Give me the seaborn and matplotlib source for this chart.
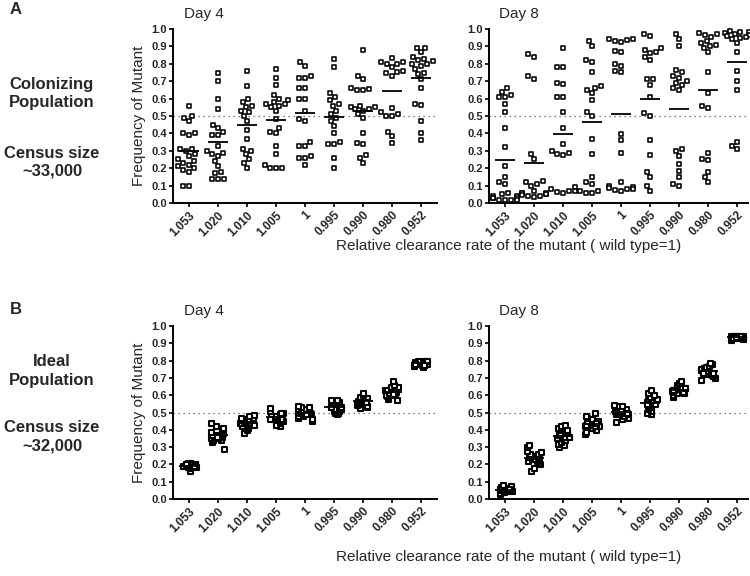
import matplotlib
matplotlib.use("Agg")
import matplotlib.pyplot as plt
import seaborn as sns
import pandas as pd
import numpy as np

# clearance rates (x categories), same for every panel
rates = ['1.053', '1.020', '1.010', '1.005', '1', '0.995', '0.990', '0.980', '0.952']

# A: colonizing population, day 4
colon_day4 = [
    [0.56, 0.50, 0.49, 0.47, 0.40, 0.40, 0.39, 0.31, 0.31, 0.30, 0.28, 0.27, 0.25, 0.24, 0.23, 0.22, 0.21, 0.20, 0.19, 0.18, 0.10, 0.10],
    [0.745, 0.70, 0.60, 0.54, 0.45, 0.43, 0.41, 0.39, 0.39, 0.33, 0.30, 0.29, 0.28, 0.27, 0.24, 0.21, 0.18, 0.17, 0.14, 0.14, 0.14],
    [0.76, 0.67, 0.60, 0.58, 0.56, 0.55, 0.53, 0.52, 0.50, 0.47, 0.42, 0.37, 0.31, 0.30, 0.28, 0.25, 0.23, 0.20],
    [0.77, 0.72, 0.68, 0.62, 0.60, 0.59, 0.58, 0.57, 0.57, 0.56, 0.55, 0.53, 0.48, 0.43, 0.41, 0.40, 0.33, 0.28, 0.22, 0.20, 0.20, 0.20],
    [0.81, 0.79, 0.73, 0.72, 0.72, 0.66, 0.66, 0.60, 0.60, 0.53, 0.48, 0.47, 0.35, 0.33, 0.33, 0.27, 0.26, 0.26, 0.22],
    [0.83, 0.78, 0.63, 0.61, 0.59, 0.57, 0.56, 0.53, 0.51, 0.49, 0.47, 0.44, 0.40, 0.35, 0.34, 0.34, 0.26, 0.20],
    [0.88, 0.73, 0.71, 0.66, 0.655, 0.65, 0.65, 0.56, 0.55, 0.55, 0.54, 0.54, 0.53, 0.51, 0.49, 0.40, 0.345, 0.34, 0.275, 0.26, 0.23],
    [0.835, 0.81, 0.81, 0.80, 0.80, 0.78, 0.76, 0.75, 0.745, 0.73, 0.545, 0.52, 0.51, 0.50, 0.50, 0.41, 0.385, 0.345],
    [0.89, 0.89, 0.865, 0.84, 0.83, 0.82, 0.815, 0.80, 0.80, 0.79, 0.77, 0.745, 0.74, 0.71, 0.66, 0.57, 0.565, 0.47, 0.40, 0.36],
]

# A: colonizing population, day 8
colon_day8 = [
    [0.66, 0.64, 0.62, 0.61, 0.61, 0.57, 0.52, 0.43, 0.32, 0.21, 0.15, 0.12, 0.11, 0.06, 0.05, 0.04, 0.04, 0.03, 0.03, 0.03, 0.02, 0.02, 0.02, 0.02],
    [0.855, 0.84, 0.73, 0.715, 0.28, 0.25, 0.125, 0.12, 0.11, 0.10, 0.07, 0.06, 0.06, 0.055, 0.05, 0.05, 0.045, 0.04, 0.04, 0.035],
    [0.89, 0.78, 0.78, 0.69, 0.685, 0.61, 0.61, 0.525, 0.43, 0.34, 0.30, 0.29, 0.28, 0.275, 0.09, 0.08, 0.07, 0.07, 0.065, 0.06],
    [0.93, 0.90, 0.82, 0.81, 0.75, 0.67, 0.66, 0.65, 0.63, 0.59, 0.52, 0.50, 0.37, 0.28, 0.15, 0.12, 0.11, 0.07, 0.07, 0.06, 0.06],
    [0.945, 0.94, 0.935, 0.93, 0.925, 0.875, 0.87, 0.80, 0.79, 0.76, 0.755, 0.395, 0.36, 0.29, 0.12, 0.10, 0.09, 0.085, 0.08, 0.08, 0.075, 0.07],
    [0.97, 0.96, 0.89, 0.88, 0.87, 0.86, 0.84, 0.82, 0.71, 0.71, 0.68, 0.61, 0.515, 0.50, 0.36, 0.275, 0.18, 0.15, 0.10, 0.07],
    [0.97, 0.94, 0.90, 0.765, 0.75, 0.73, 0.72, 0.70, 0.69, 0.68, 0.66, 0.65, 0.31, 0.30, 0.27, 0.225, 0.185, 0.15, 0.11, 0.10],
    [0.975, 0.97, 0.965, 0.955, 0.93, 0.92, 0.91, 0.90, 0.89, 0.865, 0.75, 0.63, 0.555, 0.545, 0.285, 0.25, 0.245, 0.18, 0.15, 0.12],
    [0.99, 0.985, 0.98, 0.975, 0.97, 0.965, 0.96, 0.955, 0.95, 0.94, 0.92, 0.87, 0.76, 0.70, 0.65, 0.35, 0.33, 0.31],
]

# B: ideal population, day 4
ideal_day4 = [
    [0.16, 0.18, 0.185, 0.19, 0.19, 0.19, 0.195, 0.195, 0.20, 0.20, 0.20, 0.205, 0.21, 0.21, 0.19, 0.185, 0.20, 0.195, 0.19, 0.20],
    [0.29, 0.33, 0.34, 0.34, 0.35, 0.35, 0.36, 0.36, 0.36, 0.37, 0.37, 0.37, 0.38, 0.38, 0.39, 0.40, 0.41, 0.42, 0.44, 0.36],
    [0.38, 0.40, 0.41, 0.42, 0.42, 0.43, 0.43, 0.44, 0.44, 0.44, 0.45, 0.45, 0.45, 0.46, 0.46, 0.47, 0.47, 0.48, 0.485, 0.43],
    [0.42, 0.43, 0.44, 0.45, 0.45, 0.46, 0.46, 0.47, 0.47, 0.47, 0.48, 0.48, 0.48, 0.49, 0.49, 0.50, 0.50, 0.51, 0.525, 0.46],
    [0.45, 0.46, 0.47, 0.48, 0.48, 0.49, 0.49, 0.50, 0.50, 0.50, 0.50, 0.51, 0.51, 0.51, 0.52, 0.52, 0.53, 0.53, 0.54, 0.49],
    [0.49, 0.50, 0.50, 0.51, 0.51, 0.52, 0.52, 0.52, 0.53, 0.53, 0.53, 0.54, 0.54, 0.55, 0.55, 0.56, 0.57, 0.575, 0.52, 0.53],
    [0.525, 0.53, 0.54, 0.545, 0.55, 0.55, 0.555, 0.56, 0.56, 0.565, 0.565, 0.57, 0.57, 0.575, 0.58, 0.585, 0.59, 0.60, 0.61, 0.56],
    [0.575, 0.58, 0.59, 0.595, 0.60, 0.60, 0.61, 0.61, 0.615, 0.62, 0.62, 0.625, 0.63, 0.63, 0.64, 0.645, 0.65, 0.66, 0.685, 0.605],
    [0.765, 0.77, 0.775, 0.775, 0.78, 0.78, 0.78, 0.785, 0.785, 0.785, 0.79, 0.79, 0.79, 0.795, 0.795, 0.80, 0.80, 0.775, 0.785, 0.78],
]

# B: ideal population, day 8
ideal_day8 = [
    [0.03, 0.035, 0.04, 0.045, 0.045, 0.05, 0.05, 0.05, 0.055, 0.055, 0.055, 0.06, 0.06, 0.06, 0.065, 0.07, 0.075, 0.08, 0.05, 0.06],
    [0.16, 0.18, 0.20, 0.21, 0.22, 0.22, 0.23, 0.23, 0.23, 0.24, 0.24, 0.24, 0.25, 0.25, 0.26, 0.26, 0.27, 0.28, 0.30, 0.315],
    [0.30, 0.31, 0.32, 0.33, 0.34, 0.34, 0.35, 0.35, 0.36, 0.36, 0.36, 0.37, 0.37, 0.38, 0.38, 0.39, 0.40, 0.40, 0.41, 0.42, 0.43],
    [0.375, 0.39, 0.40, 0.41, 0.41, 0.42, 0.42, 0.43, 0.43, 0.43, 0.44, 0.44, 0.45, 0.45, 0.46, 0.47, 0.48, 0.495, 0.42, 0.44],
    [0.445, 0.46, 0.47, 0.48, 0.49, 0.49, 0.50, 0.50, 0.50, 0.51, 0.51, 0.51, 0.52, 0.52, 0.53, 0.535, 0.54, 0.545, 0.50, 0.51],
    [0.49, 0.50, 0.51, 0.52, 0.53, 0.53, 0.54, 0.54, 0.55, 0.55, 0.56, 0.56, 0.57, 0.57, 0.58, 0.59, 0.60, 0.61, 0.63, 0.55],
    [0.59, 0.60, 0.61, 0.615, 0.62, 0.62, 0.625, 0.63, 0.63, 0.635, 0.64, 0.64, 0.645, 0.65, 0.66, 0.67, 0.685, 0.63, 0.62, 0.64],
    [0.69, 0.70, 0.71, 0.715, 0.72, 0.72, 0.73, 0.73, 0.735, 0.74, 0.74, 0.745, 0.75, 0.75, 0.76, 0.765, 0.77, 0.78, 0.785, 0.73],
    [0.92, 0.925, 0.93, 0.93, 0.93, 0.935, 0.935, 0.935, 0.94, 0.94, 0.94, 0.945, 0.945, 0.935, 0.93, 0.94, 0.935, 0.93, 0.94, 0.935],
]

sns.set_theme(style="ticks")
plt.rcParams['font.family'] = ['Liberation Sans', 'DejaVu Sans']


def to_frame(groups):
    rows = []
    for rate, vals in zip(rates, groups):
        for v in vals:
            rows.append({'rate': rate, 'freq': v})
    return pd.DataFrame(rows)


def draw_panel(ax, groups, title, swarm=True, ylabel=False):
    df = to_frame(groups)
    ax.axhline(0.5, color='#555555', lw=0.9, ls=(0, (1, 3)), zorder=1)
    common = dict(data=df, x='rate', y='freq', order=rates, ax=ax, marker='s',
                  color='white', edgecolor='black', zorder=3)
    if swarm:
        sns.swarmplot(size=3.1, linewidth=1.15, **common)
    else:
        sns.stripplot(size=3.6, linewidth=1.5, jitter=0.24, **common)
    # group means shown as short horizontal bars
    sns.pointplot(data=df, x='rate', y='freq', order=rates, ax=ax, estimator='mean',
                  errorbar=None, marker='_', markersize=14, markeredgewidth=1.3,
                  linestyle='none', color='black', zorder=4)
    for coll in ax.collections:
        coll.set_clip_on(False)
    ax.set_ylim(0, 1.0)
    ax.set_yticks(np.arange(0, 1.01, 0.1))
    ax.set_yticklabels([f'{t:.1f}' for t in np.arange(0, 1.01, 0.1)],
                       fontsize=8, fontweight='bold')
    ax.set_xticks(range(len(rates)))
    ax.set_xticklabels(rates, rotation=45, ha='right', rotation_mode='anchor',
                       fontsize=8.5, fontweight='bold')
    ax.set_xlabel('')
    if ylabel:
        ax.set_ylabel('Frequency of Mutant', fontsize=11, labelpad=4)
    else:
        ax.set_ylabel('')
    for side in ['top', 'right']:
        ax.spines[side].set_visible(False)
    for side in ['left', 'bottom']:
        ax.spines[side].set_linewidth(1.4)
        ax.spines[side].set_color('black')
    ax.tick_params(axis='both', length=3, width=1.2, color='black', pad=1.5)
    ax.text(0.04, 1.085, title, transform=ax.transAxes, fontsize=11,
            ha='left', va='center')


fig = plt.figure(figsize=(7.5, 5.76), dpi=100)
ax_a4 = fig.add_axes([0.2307, 0.6476, 0.352, 0.3021])
ax_a8 = fig.add_axes([0.652, 0.6476, 0.3453, 0.3021])
ax_b4 = fig.add_axes([0.2307, 0.1337, 0.352, 0.3003])
ax_b8 = fig.add_axes([0.652, 0.1337, 0.3453, 0.3003])

draw_panel(ax_a4, colon_day4, 'Day 4', swarm=True, ylabel=True)
draw_panel(ax_a8, colon_day8, 'Day 8', swarm=True)
draw_panel(ax_b4, ideal_day4, 'Day 4', swarm=False, ylabel=True)
draw_panel(ax_b8, ideal_day8, 'Day 8', swarm=False)

ax_a4.set_xlim(-0.55, 8.55)
ax_b4.set_xlim(-0.55, 8.55)
ax_a8.set_xlim(-0.55, 8.38)
ax_b8.set_xlim(-0.55, 8.38)

xlab = 'Relative clearance rate of the mutant ( wild type=1)'
fig.text(509 / 750, 1 - 246 / 576, xlab, ha='center', va='center', fontsize=11)
fig.text(509 / 750, 1 - 557 / 576, xlab, ha='center', va='center', fontsize=11)

side = dict(ha='center', va='center', fontsize=12, fontweight='bold', linespacing=1.25)
fig.text(0.013, 1 - 9 / 576, 'A', ha='left', va='center', fontsize=12, fontweight='bold')
fig.text(0.013, 1 - 310 / 576, 'B', ha='left', va='center', fontsize=12, fontweight='bold')
fig.text(52 / 750, 1 - 94 / 576, 'Colonizing\nPopulation', **side)
fig.text(52 / 750, 1 - 162 / 576, 'Census size\n~33,000', **side)
fig.text(52 / 750, 1 - 371 / 576, 'Ideal\nPopulation', **side)
fig.text(52 / 750, 1 - 437 / 576, 'Census size\n~32,000', **side)

fig.savefig('out.png', dpi=100)
